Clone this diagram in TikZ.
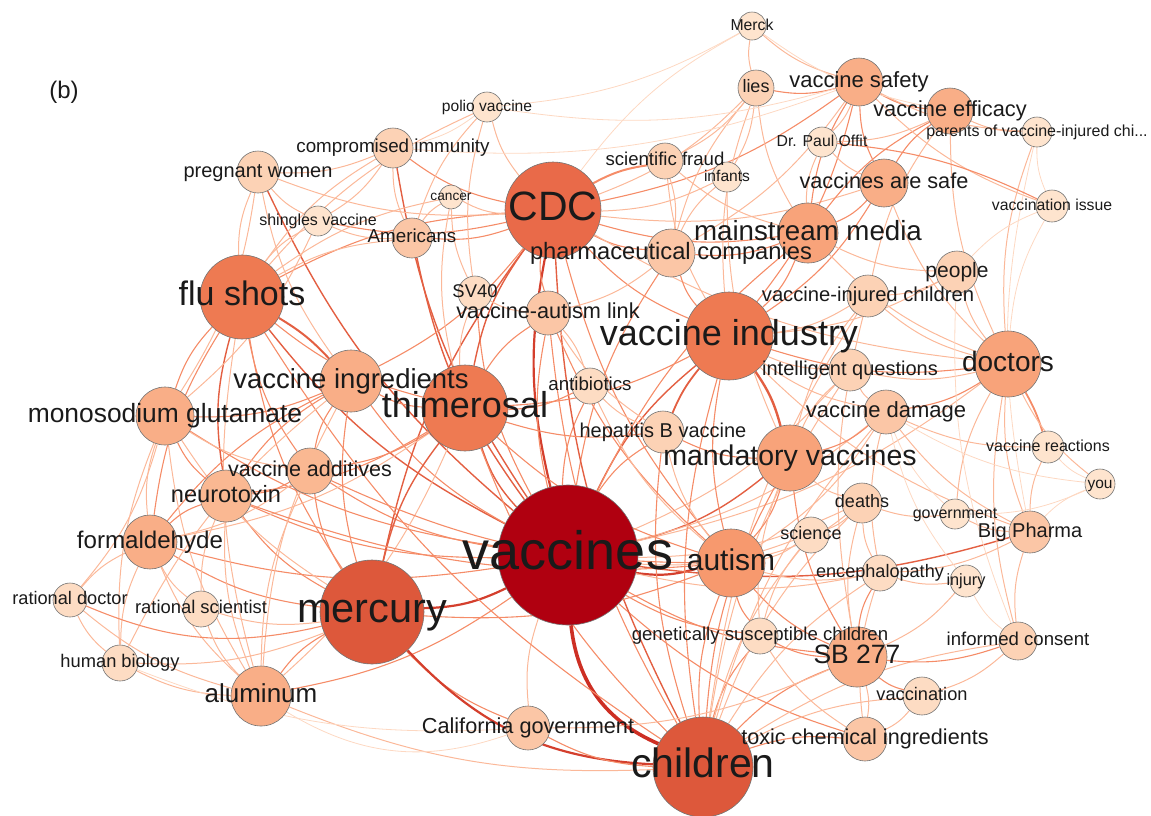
\documentclass[tikz,border=0pt]{standalone}
\usepackage{fontspec}
\setmainfont{Liberation Sans}
\pgfdeclarelayer{bg}
\pgfsetlayers{bg,main}
\definecolor{cV}{HTML}{B00010}
\definecolor{cR1}{HTML}{DD583B}
\definecolor{cR2}{HTML}{E96A49}
\definecolor{cO1}{HTML}{EE7A52}
\definecolor{cO2}{HTML}{F7996E}
\definecolor{cO3}{HTML}{F8A37A}
\definecolor{cO4}{HTML}{F9AE87}
\definecolor{cO5}{HTML}{FAB892}
\definecolor{cP1}{HTML}{FBC6A6}
\definecolor{cP2}{HTML}{FCD2B5}
\definecolor{cP3}{HTML}{FDDCC3}
\definecolor{cP4}{HTML}{FEE4CE}
\definecolor{eA}{HTML}{FDD8C2}
\definecolor{eB}{HTML}{FBB899}
\definecolor{eC}{HTML}{F58C68}
\definecolor{eD}{HTML}{E35F42}
\definecolor{eE}{HTML}{D43F2D}
\definecolor{eF}{HTML}{CD2F24}
\definecolor{txt}{HTML}{1A1A1A}
\tikzset{
  nd/.style 2 args={circle, minimum size={2*#1pt}, inner sep=0pt, fill=#2, draw=black!55, line width=0.6pt},
  lb/.style={inner sep=0pt, font=\fontsize{#1}{#1}\selectfont, text height={0.52*#1pt}, text depth=0pt, text=txt},
  ea/.style={draw=eA, line width=0.8pt},
  eb/.style={draw=eB, line width=1pt},
  ec/.style={draw=eC, line width=1.1pt},
  ed/.style={draw=eD, line width=1.4pt},
  ee/.style={draw=eE, line width=2.2pt},
  ef/.style={draw=eF, line width=3.6pt},
}
\newcommand\edg[3]{\draw[#1] (#2) to[bend right=12] (#3);}
\begin{document}
\begin{tikzpicture}[x=1pt,y=-1pt]
\useasboundingbox (0,0) rectangle (1151,815);
% nodes (circles)
\node[nd={70}{cV}] (vac) at (568,555) {};
\node[nd={48}{cR2}] (cdc) at (553,210) {};
\node[nd={42}{cO1}] (flu) at (242,297) {};
\node[nd={43}{cO1}] (thi) at (465,408) {};
\node[nd={44}{cO1}] (vind) at (729,336) {};
\node[nd={52}{cR1}] (mer) at (372,612) {};
\node[nd={50}{cR1}] (chi) at (703,767) {};
\node[nd={34}{cO2}] (aut) at (731,563) {};
\node[nd={33}{cO3}] (mand) at (790,458) {};
\node[nd={33}{cO3}] (doc) at (1008,364) {};
\node[nd={30}{cO3}] (mm) at (808,233) {};
\node[nd={24}{cO4}] (vas) at (884,183) {};
\node[nd={24}{cO4}] (vsaf) at (859,82) {};
\node[nd={23}{cO4}] (veff) at (950,111) {};
\node[nd={15}{cP4}] (parents) at (1037,132) {};
\node[nd={16}{cP4}] (vissue) at (1052,206) {};
\node[nd={14}{cP4}] (merck) at (752,26) {};
\node[nd={18}{cP2}] (lies) at (756,88) {};
\node[nd={15}{cP4}] (offit) at (822,142) {};
\node[nd={18}{cP2}] (sfraud) at (665,161) {};
\node[nd={15}{cP4}] (infants) at (727,177) {};
\node[nd={24}{cP1}] (pharma) at (671,253) {};
\node[nd={15}{cP4}] (polio) at (487,107) {};
\node[nd={20}{cP2}] (cimm) at (393,148) {};
\node[nd={21}{cP2}] (preg) at (258,172) {};
\node[nd={12}{cP4}] (cancer) at (451,197) {};
\node[nd={15}{cP4}] (shing) at (318,221) {};
\node[nd={20}{cP1}] (amer) at (412,238) {};
\node[nd={17}{cP3}] (sv40) at (475,293) {};
\node[nd={22}{cP1}] (val) at (548,313) {};
\node[nd={31}{cO4}] (ving) at (351,381) {};
\node[nd={23}{cO5}] (vadd) at (310,471) {};
\node[nd={18}{cP3}] (antib) at (590,386) {};
\node[nd={21}{cP2}] (hepb) at (663,432) {};
\node[nd={21}{cP2}] (iq) at (850,370) {};
\node[nd={21}{cP2}] (vic) at (868,296) {};
\node[nd={21}{cP2}] (people) at (957,272) {};
\node[nd={22}{cP1}] (vdam) at (886,412) {};
\node[nd={16}{cP4}] (vreac) at (1048,447) {};
\node[nd={15}{cP4}] (you) at (1100,484) {};
\node[nd={15}{cP4}] (gov) at (955,514) {};
\node[nd={21}{cP1}] (bigp) at (1030,532) {};
\node[nd={20}{cP2}] (deaths) at (862,503) {};
\node[nd={18}{cP3}] (science) at (811,535) {};
\node[nd={18}{cP3}] (enc) at (880,573) {};
\node[nd={16}{cP4}] (injury) at (966,581) {};
\node[nd={19}{cP2}] (ic) at (1018,641) {};
\node[nd={30}{cO4}] (sb) at (857,657) {};
\node[nd={18}{cP3}] (gsc) at (760,636) {};
\node[nd={19}{cP3}] (vaccination) at (922,696) {};
\node[nd={22}{cP1}] (tci) at (865,739) {};
\node[nd={22}{cP1}] (calg) at (528,728) {};
\node[nd={30}{cO4}] (alum) at (261,696) {};
\node[nd={18}{cP3}] (hbio) at (120,663) {};
\node[nd={17}{cP3}] (rdoc) at (70,600) {};
\node[nd={18}{cP3}] (rsci) at (201,609) {};
\node[nd={27}{cO4}] (form) at (150,542) {};
\node[nd={26}{cO5}] (neuro) at (226,496) {};
\node[nd={29}{cO4}] (msg) at (165,416) {};
% edges
\begin{pgfonlayer}{bg}
\draw[ef] (vac) to[bend right=30] (chi);
\edg{ee}{cdc}{vac} \edg{ee}{mer}{vac} \edg{ed}{thi}{vac} \edg{ee}{vac}{aut}
\edg{ed}{vind}{vac} \edg{ed}{vac}{mand} \edg{ed}{flu}{vac} \edg{ec}{ving}{vac}
\edg{eb}{vac}{calg} \edg{ec}{vac}{sb} \edg{ec}{vac}{gsc} \edg{ec}{form}{vac}
\edg{ec}{neuro}{vac} \edg{ec}{alum}{vac} \edg{ec}{hepb}{vac} \edg{ec}{antib}{vac}
\edg{ec}{val}{vac} \edg{eb}{vac}{doc} \edg{ed}{vac}{bigp} \edg{eb}{vac}{vdam}
\edg{eb}{vac}{science} \edg{eb}{vac}{deaths} \edg{eb}{vac}{enc} \edg{ec}{vac}{tci}
\edg{ec}{mm}{vac} \edg{ec}{pharma}{vac} \edg{ec}{sv40}{vac} \edg{ed}{amer}{vac}
\edg{ed}{cimm}{vac} \edg{ec}{vadd}{vac} \edg{ed}{preg}{vac} \edg{ec}{msg}{vac}
\edg{eb}{vac}{iq}
\edg{ec}{cdc}{flu} \edg{ed}{cdc}{thi} \edg{ed}{cdc}{mer} \edg{ec}{cdc}{vind}
\draw[ec, line width=2pt] (cdc) to[bend left=10] (sfraud);
\edg{ec}{cdc}{vsaf} \edg{eb}{polio}{cdc} \edg{ec}{cdc}{pharma} \edg{ec}{cdc}{mm}
\edg{ec}{amer}{cdc} \edg{eb}{cancer}{cdc} \edg{ed}{cdc}{chi} \edg{ec}{cdc}{aut}
\edg{eb}{cdc}{doc} \edg{eb}{cdc}{lies} \edg{ec}{shing}{cdc} \edg{ec}{cimm}{cdc}
\edg{eb}{preg}{cdc} \edg{ec}{cdc}{val} \edg{ec}{ving}{cdc} \edg{eb}{cdc}{vas}
\edg{eb}{cdc}{infants} \edg{ea}{merck}{cdc}
\draw[ed, line width=2pt] (flu) to[bend left=8] (ving);
\edg{ec}{flu}{thi} \edg{ec}{flu}{mer} \edg{ec}{flu}{msg} \edg{ed}{flu}{neuro}
\edg{ec}{flu}{form} \edg{eb}{preg}{flu} \edg{eb}{shing}{flu} \edg{eb}{cimm}{flu}
\edg{ec}{flu}{vadd} \edg{eb}{flu}{alum} \edg{ec}{flu}{chi} \edg{eb}{amer}{flu}
\edg{eb}{cancer}{flu} \edg{eb}{polio}{flu}
\edg{ec}{ving}{thi} \edg{ed}{thi}{mer} \edg{ec}{thi}{antib} \edg{ec}{thi}{aut}
\edg{eb}{sv40}{thi} \edg{ec}{val}{thi} \edg{ec}{thi}{vind} \edg{ec}{thi}{chi}
\edg{ec}{neuro}{thi} \edg{eb}{form}{thi} \edg{eb}{alum}{thi} \edg{ec}{vadd}{thi}
\edg{ec}{thi}{hepb}
\draw[ed, line width=2.4pt] (vind) to[bend left=10] (mand);
\edg{ec}{vind}{mm} \edg{ec}{vind}{doc} \edg{ec}{pharma}{vind}
\draw[ed, line width=1.8pt] (vind) to[bend right=8] (hepb);
\edg{ec}{vind}{vas} \edg{ec}{vind}{vsaf} \edg{ec}{vind}{chi} \edg{ec}{vind}{aut}
\edg{eb}{vind}{iq} \edg{eb}{vind}{vic} \edg{eb}{vind}{vdam} \edg{eb}{lies}{vind}
\edg{eb}{vind}{bigp} \edg{eb}{vind}{people}
\edg{ec}{mer}{alum} \edg{ec}{form}{mer} \edg{ec}{neuro}{mer} \edg{ec}{vadd}{mer}
\edg{ec}{mer}{calg}
\draw[ee] (mer) to[bend right=22] (chi);
\edg{ec}{ving}{mer} \edg{eb}{msg}{mer} \edg{eb}{hbio}{mer} \edg{eb}{rsci}{mer}
\edg{ec}{mer}{aut}
\edg{ec}{aut}{chi} \edg{ec}{sb}{chi} \edg{ec}{calg}{chi} \edg{ec}{tci}{chi}
\edg{ec}{gsc}{chi} \edg{ec}{mand}{chi} \edg{eb}{vaccination}{chi} \edg{eb}{ic}{chi}
\edg{eb}{enc}{chi} \edg{eb}{science}{chi} \edg{eb}{deaths}{chi} \edg{eb}{vdam}{chi}
\edg{eb}{iq}{chi} \edg{eb}{vic}{chi} \edg{ec}{hepb}{chi} \edg{eb}{alum}{chi}
\edg{ec}{val}{chi}
\edg{ec}{aut}{mand} \edg{ec}{val}{aut} \edg{ec}{aut}{gsc} \edg{ec}{aut}{sb}
\edg{eb}{aut}{science} \edg{eb}{aut}{deaths} \edg{eb}{aut}{enc} \edg{eb}{aut}{vdam}
\edg{eb}{hepb}{aut} \edg{eb}{antib}{aut}
\draw[ec, line width=1.8pt] (doc) to[bend left=6] (vreac);
\edg{eb}{doc}{you} \edg{ec}{vdam}{doc} \edg{eb}{vas}{doc} \edg{eb}{people}{doc}
\edg{eb}{doc}{bigp} \edg{eb}{vic}{doc} \edg{eb}{iq}{doc} \edg{eb}{mm}{doc}
\edg{eb}{doc}{ic} \edg{eb}{veff}{doc} \edg{eb}{parents}{doc} \edg{eb}{doc}{gov}
\edg{ec}{mm}{vas} \edg{ec}{vsaf}{mm} \edg{ec}{veff}{mm} \edg{ec}{pharma}{mm}
\edg{eb}{lies}{mm} \edg{eb}{offit}{mm} \edg{eb}{sfraud}{mm} \edg{eb}{mm}{people}
\edg{ec}{vsaf}{veff} \edg{ec}{lies}{vsaf} \edg{ec}{vsaf}{vas} \edg{eb}{offit}{vsaf}
\edg{eb}{merck}{vsaf} \edg{eb}{vsaf}{parents} \edg{eb}{vsaf}{vissue}
\edg{eb}{merck}{lies} \edg{ea}{merck}{veff} \edg{ea}{polio}{merck}
\edg{eb}{sfraud}{lies} \edg{eb}{lies}{pharma} \edg{eb}{offit}{vas} \edg{eb}{offit}{veff}
\edg{ec}{veff}{vas} \edg{eb}{veff}{parents} \edg{eb}{veff}{vic}
\edg{ea}{parents}{vissue} \edg{ea}{parents}{bigp}
\draw[ec] (offit) to[bend left=10] (vissue);
\edg{ea}{vissue}{people} \edg{ea}{vissue}{doc}
\edg{ea}{vreac}{you} \edg{eb}{vreac}{bigp} \edg{eb}{vdam}{vreac}
\edg{ea}{you}{bigp} \edg{ea}{gov}{you} \edg{ea}{vdam}{you}
\edg{eb}{gov}{bigp} \edg{eb}{deaths}{gov} \edg{ea}{vdam}{gov}
\edg{eb}{vdam}{bigp} \edg{eb}{bigp}{ic} \edg{eb}{enc}{bigp}
\edg{ec}{sb}{ic} \edg{eb}{vaccination}{ic} \edg{ea}{people}{ic} \edg{ea}{injury}{ic}
\edg{eb}{enc}{injury} \edg{eb}{sb}{injury} \edg{ea}{vdam}{injury}
\edg{ec}{sb}{vaccination} \edg{eb}{tci}{sb} \edg{ec}{gsc}{sb} \edg{ec}{enc}{sb}
\edg{eb}{deaths}{sb} \edg{ec}{mand}{sb} \edg{eb}{vic}{sb}
\edg{eb}{tci}{vaccination} \edg{eb}{gsc}{tci} \edg{eb}{enc}{tci}
\edg{eb}{mand}{gsc} \edg{eb}{science}{gsc} \edg{eb}{deaths}{enc} \edg{eb}{vdam}{enc}
\edg{eb}{science}{deaths} \edg{eb}{mand}{deaths} \edg{eb}{iq}{vdam} \edg{ec}{mand}{vdam}
\edg{eb}{iq}{mand} \edg{eb}{vic}{mand} \edg{eb}{vic}{people}
\edg{ec}{hepb}{mand} \edg{eb}{antib}{hepb} \edg{eb}{val}{hepb} \edg{eb}{antib}{val}
\edg{eb}{sv40}{val} \edg{eb}{val}{pharma} \edg{eb}{polio}{sv40} \edg{eb}{cancer}{sv40}
\edg{eb}{pharma}{sfraud} \edg{eb}{infants}{pharma} \edg{eb}{pharma}{vsaf}
\edg{eb}{infants}{lies} \edg{eb}{infants}{mand} \edg{eb}{sfraud}{vind}
\edg{ea}{cimm}{polio} \edg{eb}{polio}{amer} \edg{ea}{polio}{vsaf}
\edg{eb}{preg}{cimm} \edg{eb}{cimm}{amer} \edg{eb}{shing}{cimm} \edg{ea}{cimm}{vsaf}
\edg{eb}{preg}{shing} \edg{eb}{msg}{preg} \edg{eb}{preg}{ving}
\edg{eb}{shing}{amer} \edg{eb}{msg}{shing} \edg{eb}{cancer}{amer} \edg{eb}{cancer}{thi}
\edg{ec}{msg}{ving} \edg{ec}{ving}{neuro} \edg{ec}{ving}{form} \edg{ec}{ving}{vadd}
\edg{eb}{ving}{alum} \edg{eb}{ving}{hbio}
\edg{ec}{msg}{neuro} \edg{eb}{msg}{form} \edg{eb}{rdoc}{msg} \edg{eb}{msg}{hbio}
\edg{eb}{msg}{alum} \edg{eb}{msg}{vadd}
\edg{ec}{neuro}{form} \edg{ec}{neuro}{vadd} \edg{eb}{neuro}{alum} \edg{eb}{neuro}{rsci}
\edg{eb}{form}{rdoc} \edg{eb}{form}{rsci} \edg{eb}{form}{hbio} \edg{eb}{form}{alum}
\edg{eb}{form}{vadd}
\edg{eb}{rdoc}{hbio} \edg{eb}{rdoc}{alum}
\draw[ec] (rdoc) to[bend right=18] (mer);
\edg{eb}{rsci}{alum} \edg{eb}{hbio}{alum} \edg{ea}{hbio}{calg}
\draw[ea] (alum) to[bend right=25] (calg);
\edg{eb}{vadd}{alum} \edg{eb}{calg}{sb} \edg{ec}{vadd}{aut} \edg{ec}{neuro}{aut}
\end{pgfonlayer}
% labels
\node[lb=24] at (64,92) {(b)};
\node[lb=54] at (vac) {vaccines};
\node[lb=41] at (cdc) {CDC};
\node[lb=34] at (flu) {flu shots};
\node[lb=36] at (thi) {thimerosal};
\node[lb=36] at (vind) {vaccine industry};
\node[lb=41.5] at (mer) {mercury};
\node[lb=41] at (chi) {children};
\node[lb=30] at (aut) {autism};
\node[lb=28.5] at (mand) {mandatory vaccines};
\node[lb=28] at (doc) {doctors};
\node[lb=27.7] at (mm) {mainstream media};
\node[lb=21.7] at (vas) {vaccines are safe};
\node[lb=22] at (vsaf) {vaccine safety};
\node[lb=21.8] at (veff) {vaccine efficacy};
\node[lb=16] at (parents) {parents of vaccine-injured chi...};
\node[lb=15.8] at (vissue) {vaccination issue};
\node[lb=15.8] at (merck) {Merck};
\node[lb=18] at (lies) {lies};
\node[lb=15.8] at (offit) {Dr. Paul Offit};
\node[lb=18.6] at (sfraud) {scientific fraud};
\node[lb=15.6] at (infants) {infants};
\node[lb=23.7] at (pharma) {pharmaceutical companies};
\node[lb=15.6] at (polio) {polio vaccine};
\node[lb=18.8] at (cimm) {compromised immunity};
\node[lb=20] at (preg) {pregnant women};
\node[lb=13.7] at (cancer) {cancer};
\node[lb=16] at (shing) {shingles vaccine};
\node[lb=18.8] at (amer) {Americans};
\node[lb=18.4] at (sv40) {SV40};
\node[lb=21.7] at (val) {vaccine-autism link};
\node[lb=27.5] at (ving) {vaccine ingredients};
\node[lb=21.5] at (vadd) {vaccine additives};
\node[lb=18.7] at (antib) {antibiotics};
\node[lb=20] at (hepb) {hepatitis B vaccine};
\node[lb=20] at (iq) {intelligent questions};
\node[lb=20.2] at (vic) {vaccine-injured children};
\node[lb=21] at (people) {people};
\node[lb=22] at (vdam) {vaccine damage};
\node[lb=16] at (vreac) {vaccine reactions};
\node[lb=15.5] at (you) {you};
\node[lb=16] at (gov) {government};
\node[lb=20] at (bigp) {Big Pharma};
\node[lb=18] at (deaths) {deaths};
\node[lb=18] at (science) {science};
\node[lb=18.1] at (enc) {encephalopathy};
\node[lb=16.3] at (injury) {injury};
\node[lb=18.6] at (ic) {informed consent};
\node[lb=26.5] at (sb) {SB 277};
\node[lb=18.6] at (gsc) {genetically susceptible children};
\node[lb=18.2] at (vaccination) {vaccination};
\node[lb=21.6] at (tci) {toxic chemical ingredients};
\node[lb=21.7] at (calg) {California government};
\node[lb=26] at (alum) {aluminum};
\node[lb=18.3] at (hbio) {human biology};
\node[lb=18.2] at (rdoc) {rational doctor};
\node[lb=18.4] at (rsci) {rational scientist};
\node[lb=24.1] at (form) {formaldehyde};
\node[lb=23.6] at (neuro) {neurotoxin};
\node[lb=26.4] at (msg) {monosodium glutamate};
\end{tikzpicture}
\end{document}
